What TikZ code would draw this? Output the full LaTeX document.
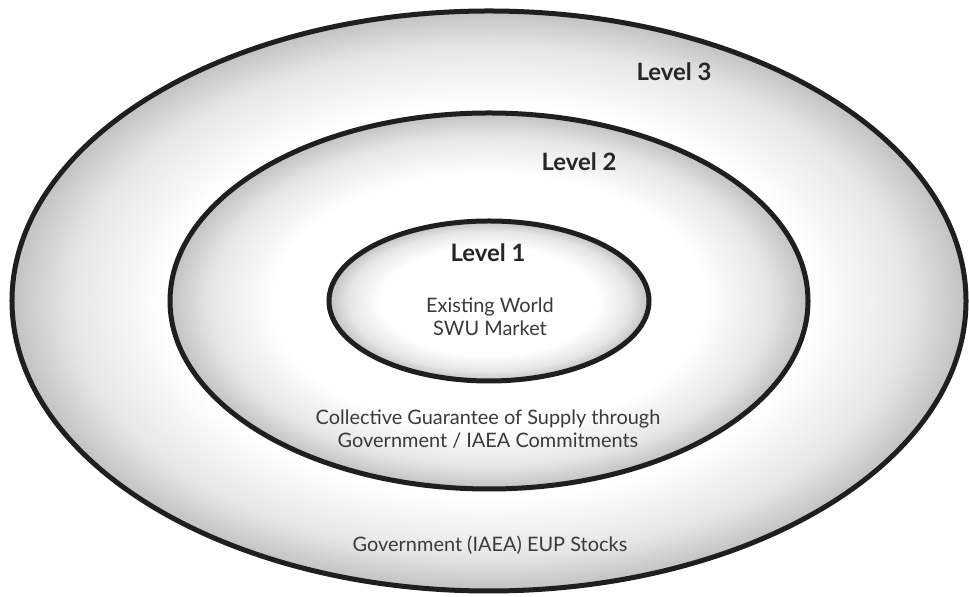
\documentclass[tikz,border=0pt]{standalone}
\usepackage{fontspec}
\setmainfont{Lato}
\usetikzlibrary{shapes.geometric}

% soft grey rim fading to a white centre
\pgfdeclareradialshading{rimshade}{\pgfpoint{0bp}{0bp}}{%
  color(0bp)=(white); color(17bp)=(white); color(22bp)=(black!10);
  color(25bp)=(black!24); color(50bp)=(black!24)}

\definecolor{textgrey}{HTML}{3A3A3A}
\definecolor{headgrey}{HTML}{262626}

\tikzset{
  ring/.style={ellipse, draw=black!88, line width=5bp, shading=rimshade,
    inner sep=0pt},
  levellabel/.style={font=\fontsize{24}{28}\selectfont\bfseries,
    text=headgrey, inner sep=0pt},
  desclabel/.style={font=\fontsize{20}{23}\selectfont, text=textgrey,
    align=center, inner sep=0pt},
}

\begin{document}
\begin{tikzpicture}[x=1bp,y=1bp]
  \useasboundingbox[fill=white] (0,0) rectangle (969,597);

  % nested levels, outermost first
  \node[ring, minimum width=954bp, minimum height=580bp] (outer) at (489,296) {};
  \node[ring, minimum width=638bp, minimum height=376bp] (middle) at (489,296) {};
  \node[ring, minimum width=320bp, minimum height=160bp] (inner) at (489,296) {};

  % level headings
  \node[levellabel] (l3) at (674,525) {Level 3};
  \node[levellabel] (l2) at (579,435) {Level 2};
  \node[levellabel] (l1) at (488,344) {Level 1};

  % descriptions of each level
  \node[desclabel] (d1) at (490,280) {Existing World\\SWU Market};
  \node[desclabel] (d2) at (488,168) {Collective Guarantee of Supply through\\Government / IAEA Commitments};
  \node[desclabel] (d3) at (490,52) {Government (IAEA) EUP Stocks};
\end{tikzpicture}
\end{document}
